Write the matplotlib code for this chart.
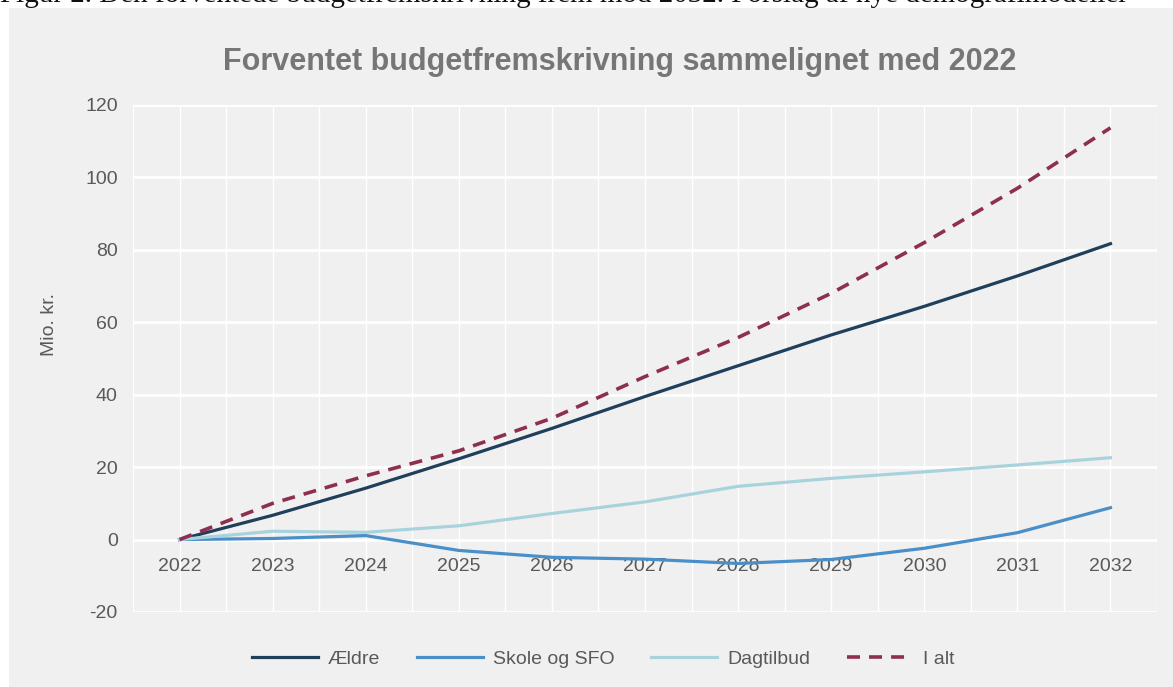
import matplotlib
matplotlib.use('Agg')
import matplotlib.pyplot as plt
from matplotlib.patches import Rectangle

plt.rcParams['font.family'] = ['Liberation Sans', 'DejaVu Sans']
plt.rcParams['axes.unicode_minus'] = False

years = [2022, 2023, 2024, 2025, 2026, 2027, 2028, 2029, 2030, 2031, 2032]
aeldre = [0, 6.7, 14.2, 22.3, 30.7, 39.5, 48.0, 56.5, 64.4, 72.8, 81.7]
skole = [0, 0.3, 1.1, -3.0, -4.9, -5.4, -6.6, -5.5, -2.4, 1.9, 8.8]
dagtilbud = [0, 2.3, 2.0, 3.8, 7.2, 10.4, 14.7, 16.9, 18.7, 20.6, 22.6]
i_alt = [0, 10.0, 17.6, 24.5, 33.5, 45.0, 55.8, 68.0, 82.0, 97.0, 113.7]
yticks = [-20, 0, 20, 40, 60, 80, 100, 120]

title = 'Forventet budgetfremskrivning sammelignet med 2022'
caption = 'Figur 2. Den forventede budgetfremskrivning frem mod 2032. Forslag af nye demografimodeller'

W, H = 1173, 687
fig = plt.figure(figsize=(W / 100, H / 100), dpi=100, facecolor='white')

# grey chart panel below the cut-off caption line
fig.patches.append(Rectangle((9 / W, 0), 1, (H - 8) / H, transform=fig.transFigure,
                             facecolor='#f0f0f0', edgecolor='none', zorder=-10))
fig.text(0.0, 1 - 2 / H, caption, family=['Liberation Serif', 'DejaVu Serif'],
         fontsize=21, va='baseline', ha='left', color='#111111')

ax = fig.add_axes([133 / W, 1 - 612 / H, (1157 - 133) / W, (612 - 105) / H])
ax.set_facecolor('#f0f0f0')

ax.plot(years, aeldre, color='#203f5a', lw=2.3, label='Ældre', zorder=3)
ax.plot(years, skole, color='#4a8fc8', lw=2.3, label='Skole og SFO', zorder=3)
ax.plot(years, dagtilbud, color='#a9d3dc', lw=2.3, label='Dagtilbud', zorder=3)
ax.plot(years, i_alt, color='#8e2f4f', lw=2.6, dashes=(3.6, 2.5), label='I alt', zorder=4)

ax.set_xlim(2021.5, 2032.5)
ax.set_ylim(-20, 120)
ax.set_yticks(yticks)
ax.set_xticks(years)
ax.set_xticks([y + 0.5 for y in [2021] + years], minor=True)
ax.set_xticklabels([str(y) for y in years])

ax.grid(axis='x', which='both', color='white', lw=1.0, zorder=1)
ax.grid(axis='y', which='major', color='white', lw=2.0, zorder=1)
ax.set_axisbelow(True)

for s in ['top', 'right', 'left']:
    ax.spines[s].set_visible(False)
ax.spines['bottom'].set_position(('data', 0))
ax.spines['bottom'].set_color('none')

ax.tick_params(axis='both', which='both', length=0, labelsize=14, labelcolor='#595959')
ax.tick_params(axis='x', pad=13)
ax.tick_params(axis='y', pad=11)

fig.text(620 / W, 1 - 70 / H, title, ha='center', va='baseline', fontsize=22,
         fontweight='bold', color='#767676')
fig.text(50 / W, 1 - 325 / H, 'Mio. kr.', rotation=90, ha='center', va='center',
         fontsize=14, color='#595959')

fig.legend(loc='center', bbox_to_anchor=(603 / W, 1 - 659 / H), ncol=4, frameon=False,
           fontsize=14, labelcolor='#595959', handlelength=3.4, handletextpad=0.5,
           columnspacing=1.9)

fig.savefig('out.png', dpi=100, facecolor=fig.get_facecolor())
